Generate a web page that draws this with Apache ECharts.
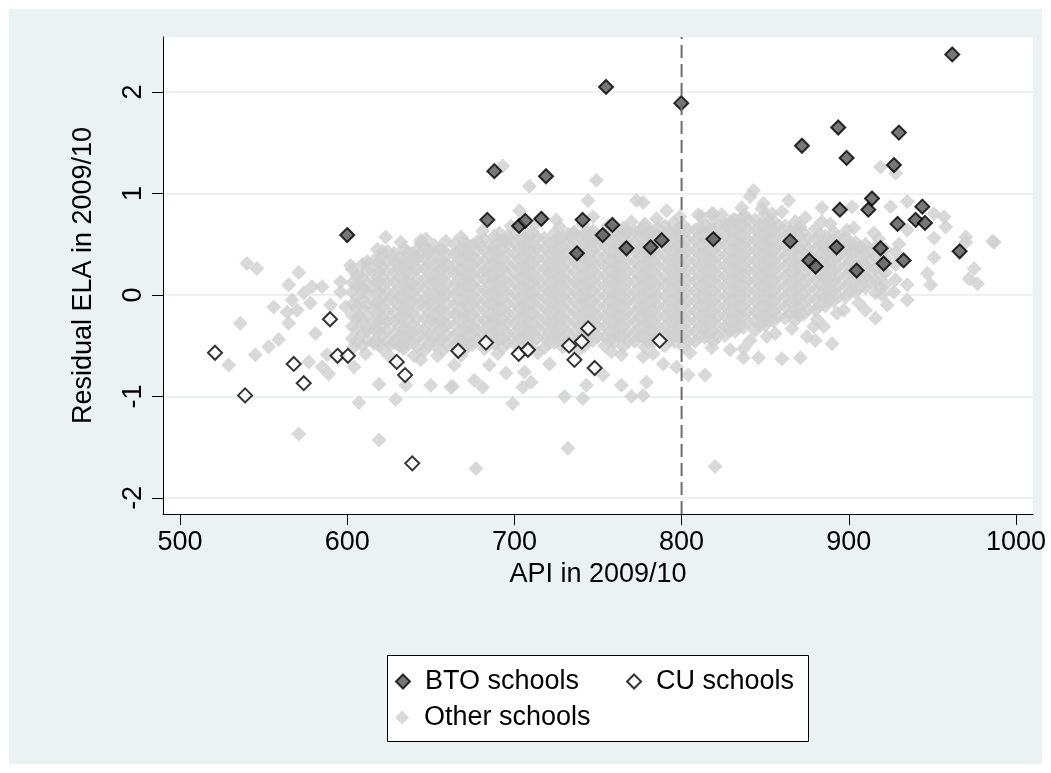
<!DOCTYPE html>
<html><head><meta charset="utf-8">
<script src="https://cdn.jsdelivr.net/npm/echarts@6/dist/echarts.min.js"></script>
<style>html,body{margin:0;padding:0;background:#fff}#chart{width:1051px;height:773px}</style>
</head><body><div id="chart"></div>
<script>
// ---------- data ----------
const xTicks = [500, 600, 700, 800, 900, 1000];
const yTicks = [-2, -1, 0, 1, 2];
const cutoffApi = 800;

const btoSchools = [
  [600,0.59],[754.8,2.05],[799.8,1.89],[961.9,2.37],[688,1.22],[718.9,1.17],[683.8,0.74],[702.8,0.68],
  [706.5,0.73],[716.1,0.75],[740.8,0.74],[752.8,0.59],[758.6,0.69],[737.4,0.41],[767,0.46],[781.5,0.47],
  [788.1,0.54],[819,0.55],[893.7,1.65],[930,1.60],[872,1.47],[898.7,1.35],[927,1.28],[913.9,0.95],
  [911.7,0.84],[894.7,0.84],[944,0.87],[940,0.74],[945.6,0.71],[929.2,0.70],[865,0.53],[892.7,0.47],
  [919,0.46],[966.3,0.43],[876.4,0.34],[880.2,0.28],[904.7,0.24],[920.9,0.31],[932.8,0.34]
];

const cuSchools = [
  [520.9,-0.57],[538.9,-0.99],[568,-0.68],[574,-0.87],[589.7,-0.24],[594.2,-0.60],[600.4,-0.60],
  [629.6,-0.66],[634.6,-0.79],[638.9,-1.66],[666.4,-0.55],[683,-0.47],[702.6,-0.58],[708.1,-0.54],
  [732.7,-0.50],[740.3,-0.46],[744.1,-0.33],[735.9,-0.64],[748,-0.72],[786.9,-0.45]
];

// dense core of "Other schools": schools sharing an API score, with their residuals
const otherCoreApi = [603,609,616,621,628,634,639,646,652,657,664,670,675,682,688,693,700,706,711,718,
  724,729,736,742,747,754,760,765,772,778,783,790,796,801,808,814,819,826,832,837,844,850,855,862,868,
  873,880,886,891,898,904,910,916,922,928,
  606,612,619,624,631,636,642,649,655,660,667,672,678,685,690,696,703,708,714,721,726,732,739,744,750,
  757,762,768,775,780,786,793,798,804,811,816,822,829,834,840,847,852,858,865,870,876,883,888,894,901,
  907,913,919];
const otherCoreResid = [
  [-0.43,-0.31,-0.2,-0.09,0.03,0.12,0.25],
  [-0.5,-0.38,-0.25,-0.13,-0.04,0.08,0.17,0.3],
  [-0.46,-0.34,-0.27,-0.15,-0.07,0.05,0.14,0.21,0.34],
  [-0.53,-0.4,-0.3,-0.22,-0.11,-0.02,0.09,0.17,0.28,0.38],
  [-0.47,-0.38,-0.26,-0.17,-0.06,0.02,0.13,0.22,0.32,0.41],
  [-0.53,-0.42,-0.33,-0.21,-0.13,-0.03,0.08,0.16,0.27,0.35,0.46],
  [-0.47,-0.37,-0.29,-0.18,-0.07,0.02,0.11,0.22,0.31,0.41],
  [-0.55,-0.43,-0.34,-0.23,-0.12,-0.05,0.06,0.15,0.26,0.36,0.47],
  [-0.49,-0.4,-0.28,-0.19,-0.09,0.01,0.12,0.2,0.3,0.41,0.49],
  [-0.55,-0.44,-0.33,-0.25,-0.14,-0.03,0.05,0.16,0.26,0.34,0.44],
  [-0.5,-0.41,-0.3,-0.19,-0.1,0.01,0.1,0.21,0.29,0.4,0.5],
  [-0.54,-0.45,-0.35,-0.24,-0.16,-0.05,0.06,0.15,0.24,0.35,0.45,0.53],
  [-0.49,-0.39,-0.31,-0.2,-0.09,0,0.1,0.2,0.3,0.38,0.49],
  [-0.53,-0.44,-0.34,-0.25,-0.14,-0.05,0.05,0.16,0.24,0.34,0.44,0.55],
  [-0.48,-0.38,-0.29,-0.2,-0.09,0.01,0.11,0.19,0.3,0.4,0.48,0.58],
  [-0.52,-0.43,-0.33,-0.24,-0.14,-0.04,0.06,0.15,0.26,0.35,0.45,0.54],
  [-0.48,-0.38,-0.28,-0.19,-0.08,0.02,0.12,0.22,0.31,0.41,0.51,0.6],
  [-0.52,-0.43,-0.33,-0.22,-0.13,-0.03,0.07,0.16,0.26,0.37,0.46,0.56],
  [-0.47,-0.37,-0.28,-0.18,-0.08,0.02,0.12,0.21,0.31,0.41,0.5,0.61],
  [-0.52,-0.42,-0.31,-0.22,-0.12,-0.02,0.07,0.17,0.26,0.36,0.46,0.56],
  [-0.47,-0.37,-0.27,-0.17,-0.07,0.03,0.13,0.22,0.32,0.42,0.51,0.61],
  [-0.51,-0.42,-0.32,-0.23,-0.12,-0.02,0.08,0.17,0.27,0.37,0.47,0.57],
  [-0.46,-0.36,-0.26,-0.16,-0.06,0.04,0.13,0.23,0.33,0.43,0.52,0.62],
  [-0.5,-0.41,-0.31,-0.21,-0.11,-0.01,0.08,0.18,0.28,0.38,0.48,0.58],
  [-0.45,-0.36,-0.26,-0.16,-0.06,0.04,0.14,0.24,0.33,0.43,0.53,0.63],
  [-0.5,-0.41,-0.31,-0.21,-0.11,-0.01,0.09,0.19,0.29,0.38,0.48,0.58],
  [-0.46,-0.36,-0.26,-0.16,-0.06,0.03,0.13,0.23,0.33,0.43,0.53,0.63],
  [-0.51,-0.41,-0.31,-0.21,-0.11,-0.02,0.08,0.18,0.28,0.38,0.48,0.58,0.66],
  [-0.46,-0.37,-0.27,-0.17,-0.07,0.03,0.13,0.23,0.33,0.43,0.52,0.62],
  [-0.51,-0.41,-0.31,-0.21,-0.12,-0.02,0.08,0.18,0.28,0.38,0.48,0.58,0.67],
  [-0.46,-0.36,-0.26,-0.16,-0.06,0.04,0.13,0.23,0.33,0.43,0.53,0.63],
  [-0.5,-0.41,-0.31,-0.21,-0.11,-0.01,0.09,0.19,0.29,0.39,0.49,0.58,0.68],
  [-0.46,-0.36,-0.26,-0.16,-0.06,0.04,0.14,0.24,0.34,0.44,0.54,0.63],
  [-0.51,-0.41,-0.31,-0.21,-0.11,-0.01,0.09,0.19,0.29,0.39,0.49,0.59,0.69],
  [-0.46,-0.36,-0.26,-0.16,-0.06,0.04,0.14,0.24,0.34,0.44,0.54,0.64],
  [-0.42,-0.31,-0.21,-0.11,-0.01,0.09,0.19,0.29,0.39,0.49,0.59,0.69],
  [-0.46,-0.36,-0.26,-0.16,-0.06,0.04,0.14,0.24,0.34,0.44,0.54,0.64,0.73],
  [-0.4,-0.31,-0.21,-0.11,-0.01,0.09,0.19,0.29,0.39,0.49,0.59,0.69],
  [-0.36,-0.26,-0.16,-0.06,0.04,0.14,0.24,0.34,0.44,0.54,0.64,0.74],
  [-0.32,-0.21,-0.11,-0.01,0.09,0.19,0.29,0.39,0.49,0.59,0.69,0.78],
  [-0.35,-0.26,-0.16,-0.06,0.04,0.14,0.24,0.34,0.44,0.54,0.64,0.74],
  [-0.3,-0.21,-0.11,-0.01,0.09,0.19,0.29,0.39,0.49,0.59,0.69,0.79],
  [-0.26,-0.16,-0.06,0.04,0.14,0.24,0.34,0.44,0.54,0.64,0.73],
  [-0.23,-0.12,-0.02,0.08,0.18,0.28,0.38,0.48,0.58,0.68],
  [-0.25,-0.16,-0.06,0.04,0.14,0.24,0.34,0.44,0.54,0.63,0.72],
  [-0.19,-0.09,0.01,0.11,0.21,0.31,0.41,0.51,0.61],
  [-0.15,-0.05,0.05,0.15,0.25,0.35,0.45,0.55,0.65],
  [-0.11,-0.01,0.09,0.19,0.29,0.39,0.49,0.58],
  [-0.06,0.04,0.14,0.24,0.34,0.44,0.54,0.62],
  [-0.02,0.08,0.18,0.28,0.38,0.48,0.57],
  [0.03,0.13,0.23,0.33,0.43,0.52],
  [0.07,0.18,0.29,0.4,0.5],
  [0.02,0.14,0.26,0.38,0.47],
  [0.1,0.22,0.36,0.45],
  [0.15,0.3,0.42],
  [-0.45,-0.33,-0.22,-0.12,-0.02,0.09,0.2],
  [-0.44,-0.31,-0.2,-0.1,0.01,0.11,0.24,0.33],
  [-0.48,-0.36,-0.25,-0.16,-0.06,0.04,0.13,0.23,0.32],
  [-0.45,-0.35,-0.26,-0.16,-0.07,0.03,0.13,0.23,0.33,0.43],
  [-0.5,-0.41,-0.31,-0.22,-0.11,-0.02,0.07,0.18,0.26,0.37],
  [-0.47,-0.37,-0.27,-0.17,-0.08,0.03,0.12,0.22,0.31,0.41],
  [-0.51,-0.42,-0.33,-0.23,-0.12,-0.03,0.07,0.16,0.26,0.36,0.45],
  [-0.49,-0.38,-0.28,-0.18,-0.08,0.01,0.11,0.21,0.31,0.41],
  [-0.44,-0.34,-0.24,-0.14,-0.04,0.06,0.16,0.25,0.35,0.45],
  [-0.49,-0.39,-0.29,-0.19,-0.09,0.01,0.11,0.21,0.3,0.4],
  [-0.45,-0.36,-0.25,-0.15,-0.05,0.05,0.15,0.25,0.35,0.45],
  [-0.5,-0.4,-0.3,-0.2,-0.1,0,0.1,0.2,0.3,0.4,0.49],
  [-0.44,-0.35,-0.25,-0.15,-0.05,0.05,0.15,0.25,0.34,0.44,0.53],
  [-0.48,-0.39,-0.29,-0.19,-0.09,0.01,0.1,0.2,0.29,0.39,0.49],
  [-0.43,-0.34,-0.24,-0.14,-0.04,0.06,0.15,0.25,0.35,0.44,0.53],
  [-0.47,-0.38,-0.28,-0.18,-0.09,0.01,0.11,0.2,0.3,0.4,0.5,0.58],
  [-0.43,-0.33,-0.23,-0.13,-0.03,0.07,0.17,0.26,0.36,0.46,0.55],
  [-0.47,-0.38,-0.27,-0.17,-0.08,0.02,0.12,0.21,0.31,0.42,0.51,0.6],
  [-0.42,-0.33,-0.23,-0.13,-0.03,0.07,0.16,0.26,0.36,0.46,0.56],
  [-0.47,-0.37,-0.27,-0.17,-0.07,0.03,0.12,0.22,0.31,0.41,0.51],
  [-0.42,-0.32,-0.22,-0.12,-0.02,0.08,0.18,0.27,0.37,0.47,0.56],
  [-0.46,-0.37,-0.27,-0.17,-0.07,0.03,0.13,0.22,0.32,0.42,0.52,0.6],
  [-0.41,-0.31,-0.21,-0.11,-0.01,0.09,0.18,0.28,0.38,0.48,0.57],
  [-0.45,-0.36,-0.26,-0.16,-0.06,0.04,0.13,0.23,0.33,0.43,0.53,0.62],
  [-0.41,-0.31,-0.21,-0.11,-0.01,0.09,0.19,0.29,0.38,0.48,0.58],
  [-0.45,-0.36,-0.26,-0.16,-0.06,0.04,0.14,0.24,0.33,0.43,0.53,0.61],
  [-0.41,-0.31,-0.21,-0.11,-0.01,0.08,0.18,0.28,0.38,0.48,0.58],
  [-0.46,-0.36,-0.26,-0.16,-0.06,0.03,0.13,0.23,0.33,0.43,0.53,0.61],
  [-0.41,-0.32,-0.22,-0.12,-0.02,0.08,0.18,0.28,0.38,0.47,0.57,0.64],
  [-0.46,-0.36,-0.26,-0.17,-0.07,0.03,0.13,0.23,0.33,0.43,0.53,0.62],
  [-0.41,-0.31,-0.21,-0.11,-0.01,0.09,0.18,0.28,0.38,0.48,0.58,0.66],
  [-0.45,-0.36,-0.26,-0.16,-0.06,0.04,0.14,0.24,0.34,0.44,0.54,0.63],
  [-0.41,-0.31,-0.21,-0.11,-0.01,0.09,0.19,0.29,0.39,0.49,0.59,0.66],
  [-0.46,-0.36,-0.26,-0.16,-0.06,0.04,0.14,0.24,0.34,0.44,0.54,0.64],
  [-0.41,-0.31,-0.21,-0.11,-0.01,0.09,0.19,0.29,0.39,0.49,0.59,0.67],
  [-0.37,-0.26,-0.16,-0.06,0.04,0.14,0.24,0.34,0.44,0.54,0.64],
  [-0.41,-0.31,-0.21,-0.11,-0.01,0.09,0.19,0.29,0.39,0.49,0.59,0.68],
  [-0.35,-0.26,-0.16,-0.06,0.04,0.14,0.24,0.34,0.44,0.54,0.64,0.72],
  [-0.31,-0.21,-0.11,-0.01,0.09,0.19,0.29,0.39,0.49,0.59,0.69],
  [-0.27,-0.16,-0.06,0.04,0.14,0.24,0.34,0.44,0.54,0.64,0.73],
  [-0.3,-0.21,-0.11,-0.01,0.09,0.19,0.29,0.39,0.49,0.59,0.69],
  [-0.25,-0.16,-0.06,0.04,0.14,0.24,0.34,0.44,0.54,0.64,0.72],
  [-0.21,-0.11,-0.01,0.09,0.19,0.29,0.39,0.49,0.59,0.68],
  [-0.18,-0.07,0.03,0.13,0.23,0.33,0.43,0.53,0.63],
  [-0.2,-0.11,-0.01,0.09,0.19,0.29,0.39,0.49,0.59,0.66],
  [-0.14,-0.04,0.06,0.16,0.26,0.36,0.46,0.56],
  [-0.1,0,0.1,0.2,0.3,0.4,0.5,0.59],
  [-0.06,0.04,0.14,0.24,0.34,0.44,0.53],
  [-0.01,0.09,0.19,0.29,0.39,0.49,0.57],
  [0.03,0.13,0.23,0.33,0.43,0.51],
  [0.08,0.18,0.28,0.38,0.47],
  [0.12,0.23,0.34,0.44],
  [0.07,0.19,0.31,0.41]
];

// scattered "Other schools" around the core (including its ragged edges)
const otherScattered = [
  [540,0.31],[546,0.26],[536,-0.28],[529,-0.69],[545,-0.59],[553,-0.51],[559,-0.44],[556,-0.12],[565,0.10],
  [571,0.22],[567,-0.05],[564,-0.17],[570,-0.15],[565,-0.28],[574,0.02],[579,0.08],[585,0.08],[578,-0.08],
  [590,-0.10],[577,-0.66],[585,-0.71],[589,-0.78],[581,-0.38],[588,-0.59],[571,-1.37],[596,0.13],[602,0.29],
  [596,0.03],[599,-0.12],[604,-0.71],[607,-1.06],[619,-1.43],[619,-0.88],[629,-1.03],[635,-0.89],[623,0.57],
  [621,0.43],[628,0.35],[644,0.51],[649,0.44],[642,0.38],[612,0.29],[606,0.18],[610,0.05],[608,-0.22],
  [612,-0.35],[616,-0.48],[604,-0.51],[626,-0.49],[633,-0.51],[650,-0.89],[662,-0.91],[644,-0.64],[644,0.54],
  [663,-0.90],[676,-0.84],[681,-0.91],[699,-1.07],[705,-0.91],[710,-0.86],[677,-1.71],[730,-1.0],[732,-1.51],
  [741,-1.02],[743,-0.89],[753,-0.79],[764,-0.89],[770,-1.0],[777,-0.99],[779,-0.86],[764,-0.59],[777,-0.61],
  [789,-0.68],[797,-0.71],[804,-0.79],[814,-0.79],[820,-1.69],[829,-0.54],[664,-0.69],[721,-0.68],[695,-0.77],
  [685,-0.69],[706,-0.76],[837,-0.53],[837,-0.62],[846,-0.62],[860,-0.63],[871,-0.62],[875,-0.41],[880,-0.45],
  [890,-0.48],[885,-0.31],[879,-0.31],[897,-0.15],[910,-0.15],[916,-0.23],[923,-0.10],[935,-0.05],[927,0.03],
  [935,0.10],[949,0.10],[947,0.21],[951,0.37],[975,0.26],[972,0.16],[977,0.11],[987,0.52],[970,0.52],[851,-0.41],
  [919,1.26],[928,1.20],[843,1.03],[841,0.97],[849,0.90],[864,0.93],[884,0.86],[902,0.87],[925,0.87],[935,0.92],
  [951,0.80],[957,0.77],[958,0.67],[970,0.57],[986,0.53],[838,0.78],[819,0.80],[854,0.80],[871,0.67],[884,0.72],
  [899,0.64],[915,0.61],[935,0.64],[951,0.56],[907,0.47],[885,0.51],[693,1.27],[709,1.07],[749,1.13],[744,0.93],
  [773,0.93],[777,0.91],[791,0.83],[703,0.83],[810,0.79],[818,0.80],[778,0.70],[747,0.77],[725,0.74],[691,0.61],
  [679,0.51],[673,0.41],[695,0.54],[735,0.61],[745,0.57],[767,0.64],[795,0.71],[827,0.67],[831,0.74],
  [618,0.45],[632,0.52],[647,0.55],[659,0.53],[668,0.57],[681,0.63],[698,0.68],[712,0.69],[727,0.67],[741,0.70],
  [756,0.68],[770,0.72],[785,0.75],[799,0.77],[812,0.77],[824,0.79],[836,0.86],[848,0.85],[860,0.82],[874,0.76],
  [889,0.70],[903,0.66],[918,0.55],[930,0.50],
  [611,-0.58],[625,-0.60],[640,-0.60],[654,-0.60],[668,-0.60],[690,-0.58],[714,-0.57],[738,-0.55],[758,-0.56],
  [783,-0.58],[805,-0.57],[818,-0.52],[841,-0.45],[856,-0.38],[866,-0.33],[881,-0.24],[893,-0.18],[906,-0.08],[920,0.0]
];

// ---------- build ----------
const otherSchools = [];
otherCoreApi.forEach((api, i) => otherCoreResid[i].forEach(r => otherSchools.push([api, r])));
otherScattered.forEach(p => otherSchools.push(p));

const xMin = 489.8, xMax = 1010.2, yMin = -2.159, yMax = 2.542;
const FONT = '"Liberation Sans", Arial, sans-serif';
const txt = { fontFamily: FONT, fontSize: 27, color: '#000' };
const plain = v => String(v);

const chart = echarts.init(document.getElementById('chart'), null, { renderer: 'canvas' });
chart.setOption({
  animation: false,
  backgroundColor: '#ffffff',
  graphic: [
    { type: 'rect', z: -10, silent: true, shape: { x: 9, y: 9, width: 1033, height: 755 }, style: { fill: '#EAF2F3' } },
    { type: 'rect', z: 1, silent: true, shape: { x: 387.5, y: 655.5, width: 421, height: 86 }, style: { fill: '#fff', stroke: '#000', lineWidth: 1 } }
  ],
  grid: { left: 163, top: 37, right: 18, bottom: 259, show: true, backgroundColor: '#fff', borderWidth: 0 },
  xAxis: {
    type: 'value', min: xMin, max: xMax,
    axisLine: { show: true, onZero: false, lineStyle: { color: '#000', width: 1 } },
    axisTick: { show: true, length: 11, customValues: xTicks, lineStyle: { color: '#000' } },
    axisLabel: Object.assign({ customValues: xTicks, margin: 15, formatter: plain }, txt),
    splitLine: { show: false },
    name: 'API in 2009/10', nameLocation: 'middle', nameGap: 46, nameTextStyle: txt
  },
  yAxis: {
    type: 'value', min: yMin, max: yMax,
    axisLine: { show: true, onZero: false, lineStyle: { color: '#000', width: 1 } },
    axisTick: { show: true, length: 11, customValues: yTicks, lineStyle: { color: '#000' } },
    axisLabel: Object.assign({ customValues: yTicks, margin: 16, rotate: 90, formatter: plain }, txt),
    splitLine: { show: true, lineStyle: { color: '#EAF2F3', width: 2 } },
    name: 'Residual ELA in 2009/10', nameLocation: 'middle', nameGap: 66, nameTextStyle: txt
  },
  legend: [
    { data: ['BTO schools', 'CU schools'], left: 395, top: 668, padding: 0, itemWidth: 14, itemHeight: 14, itemGap: 47,
      selectedMode: false, textStyle: Object.assign({ padding: [0, 0, 0, 10] }, txt) },
    { data: ['Other schools'], left: 395, top: 704, padding: 0, itemWidth: 14, itemHeight: 14,
      selectedMode: false, textStyle: Object.assign({ padding: [0, 0, 0, 10] }, txt) }
  ],
  series: [
    { name: 'Other schools', type: 'scatter', symbol: 'diamond', symbolSize: 15, z: 2, silent: true,
      itemStyle: { color: '#d0d0d0' }, data: otherSchools },
    { name: 'BTO schools', type: 'scatter', symbol: 'diamond', symbolSize: 14, z: 3, silent: true,
      itemStyle: { color: '#555555', borderColor: '#000', borderWidth: 2 }, data: btoSchools },
    { name: 'CU schools', type: 'scatter', symbol: 'diamond', symbolSize: 14, z: 3, silent: true,
      itemStyle: { color: '#ffffff', borderColor: '#000', borderWidth: 2 }, data: cuSchools },
    { name: 'cutoff', type: 'line', symbol: 'none', z: 5, silent: true,
      lineStyle: { color: '#6e6e6e', width: 2, type: [13, 6] },
      data: [[cutoffApi, yMin], [cutoffApi, yMax]] }
  ]
});
</script></body></html>
